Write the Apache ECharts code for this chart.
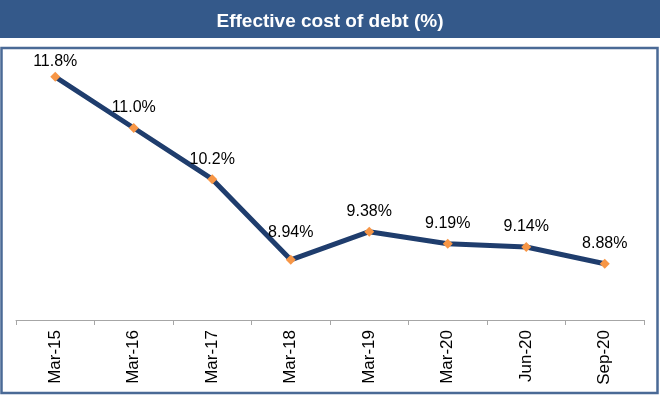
<!DOCTYPE html>
<html><head><meta charset="utf-8">
<script src="https://cdn.jsdelivr.net/npm/echarts@6/dist/echarts.min.js"></script>
<style>html,body{margin:0;padding:0;background:#fff}#c{width:660px;height:395px}</style>
</head><body><div id="c"></div>
<script>
var categories = ['Mar-15','Mar-16','Mar-17','Mar-18','Mar-19','Mar-20','Jun-20','Sep-20'];
var values = [11.8, 11.0, 10.2, 8.94, 9.38, 9.19, 9.14, 8.88];
var labels = ['11.8%','11.0%','10.2%','8.94%','9.38%','9.19%','9.14%','8.88%'];
var labelDist = [2, 7, 7, 14, 7, 7, 7, 7];

var chart = echarts.init(document.getElementById('c'));
chart.setOption({
  animation: false,
  title: {
    text: 'Effective cost of debt (%)',
    left: 'center', top: 7,
    textStyle: {color: '#fff', fontFamily: 'Liberation Sans', fontWeight: 'bold', fontSize: 19}
  },
  graphic: [
    {type: 'rect', z: -10, shape: {x: 0, y: 0, width: 660, height: 38}, style: {fill: '#34598a'}},
    {type: 'rect', z: -10, shape: {x: 1.5, y: 48, width: 656, height: 345}, style: {fill: 'none', stroke: '#4a6a96', lineWidth: 2.5}}
  ],
  grid: {left: 16, right: 16, top: 64, bottom: 75},
  xAxis: {
    type: 'category', data: categories, boundaryGap: true,
    axisLine: {lineStyle: {color: '#a6a6a6', width: 1}},
    axisTick: {show: true, length: 5, lineStyle: {color: '#a6a6a6'}},
    axisLabel: {rotate: 90, margin: 10, color: '#000', fontSize: 17, fontFamily: 'Liberation Sans'}
  },
  yAxis: {type: 'value', min: 8, max: 12, show: false, splitLine: {show: false}},
  series: [{
    type: 'line',
    data: values.map(function (v, i) {
      return {value: v, label: {distance: labelDist[i], formatter: labels[i]}};
    }),
    lineStyle: {color: '#1f3d6d', width: 5},
    symbol: 'diamond', symbolSize: 10,
    itemStyle: {color: '#f79646'},
    label: {show: true, position: 'top', color: '#000', fontSize: 16, fontFamily: 'Liberation Sans'}
  }]
});
</script></body></html>
